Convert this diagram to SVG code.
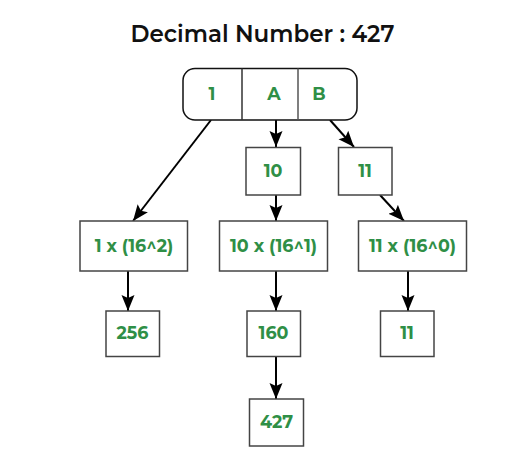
<svg xmlns="http://www.w3.org/2000/svg" width="524" height="470" viewBox="0 0 524 470">
<style>
.box{fill:#fff;stroke:#444;stroke-width:1.5}
.t{font-family:"Montserrat","Liberation Sans",Arial,sans-serif;font-weight:bold;font-size:17.5px;fill:#2f8f46;text-anchor:middle}
.title{font-family:"Montserrat","Liberation Sans",Arial,sans-serif;font-weight:600;font-size:23px;fill:#111;text-anchor:middle}
.c{stroke:#000;stroke-width:2;fill:none;marker-end:url(#ah)}
</style>
<defs>
<marker id="ah" viewBox="0 0 16 14" refX="16" refY="7" markerWidth="16" markerHeight="14" markerUnits="userSpaceOnUse" orient="auto">
<path d="M0,0.5 L16,7 L0,13.5 L3,7 Z" fill="#000"/>
</marker>
</defs>
<rect width="524" height="470" fill="#fff"/>
<text class="title" x="262.5" y="42">Decimal Number : 427</text>
<g id="connectors">
<line class="c" x1="211" y1="120" x2="133" y2="221"/>
<line class="c" x1="276" y1="120" x2="276" y2="147"/>
<line class="c" x1="330" y1="120" x2="354" y2="147"/>
<line class="c" x1="276" y1="195" x2="276" y2="221"/>
<line class="c" x1="380" y1="195" x2="404" y2="221"/>
<line class="c" x1="128" y1="271" x2="128" y2="311"/>
<line class="c" x1="276" y1="271" x2="276" y2="311"/>
<line class="c" x1="408" y1="271" x2="408" y2="311"/>
<line class="c" x1="276" y1="356" x2="276" y2="399"/>
</g>
<g id="hex">
<rect x="183" y="68.5" width="174" height="51.5" rx="12" fill="#fff" stroke="#111" stroke-width="1.5"/>
<line x1="242" y1="68.5" x2="242" y2="120" stroke="#333" stroke-width="1.5"/>
<line x1="298" y1="68.5" x2="298" y2="120" stroke="#555" stroke-width="1.5"/>
<text class="t" x="212" y="100">1</text>
<text class="t" x="274" y="100">A</text>
<text class="t" x="319" y="100">B</text>
</g>
<g id="n10"><rect class="box" x="246" y="147.5" width="54.5" height="47.5"/><text class="t" x="273" y="177">10</text></g>
<g id="n11"><rect class="box" x="338.5" y="147.5" width="53.5" height="47.5"/><text class="t" x="365" y="177">11</text></g>
<g id="p2"><rect class="box" x="80" y="221" width="107.5" height="50"/><text class="t" x="134" y="251.5">1 x (16^2)</text></g>
<g id="p1"><rect class="box" x="219.5" y="221" width="108" height="50"/><text class="t" x="273.5" y="251.5">10 x (16^1)</text></g>
<g id="p0"><rect class="box" x="358.5" y="221" width="108" height="50"/><text class="t" x="412.5" y="251.5">11 x (16^0)</text></g>
<g id="v256"><rect class="box" x="106" y="311" width="53.5" height="45.5"/><text class="t" x="132.5" y="339">256</text></g>
<g id="v160"><rect class="box" x="247" y="311" width="53.5" height="45.5"/><text class="t" x="273.5" y="339">160</text></g>
<g id="v11"><rect class="box" x="380.5" y="311" width="53.5" height="45.5"/><text class="t" x="407" y="339">11</text></g>
<g id="v427"><rect class="box" x="249.5" y="399" width="54" height="47"/><text class="t" x="276.5" y="428">427</text></g>
</svg>
